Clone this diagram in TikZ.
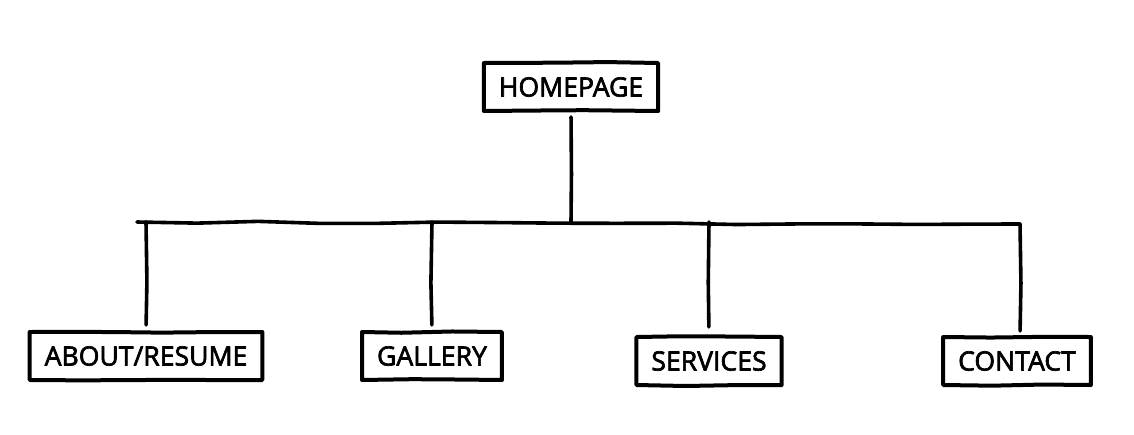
\documentclass[tikz,border=0pt]{standalone}
\usepackage{fontspec}
\newfontfamily\boxfont{Open Sans}[FakeBold=2.5]
\usetikzlibrary{decorations.pathmorphing}

\begin{document}
\begin{tikzpicture}
	[x=0.5pt,y=-0.5pt,line width=2pt,line join=round,line cap=round,
		page node/.style={draw,rectangle,inner xsep=7.5pt,minimum height=24pt,font=\boxfont\fontsize{13.3}{15}\selectfont,
			decorate,decoration={random steps,segment length=25pt,amplitude=0.5pt}},
		wire/.style={line width=1.8pt,decorate,decoration={random steps,segment length=30pt,amplitude=0.6pt}}]

	\useasboundingbox (0,0) rectangle (1134,434);

	\node[page node] (home)     at (571,87)   {HOMEPAGE};
	\node[page node] (about)    at (146,356)  {ABOUT/RESUME};
	\node[page node] (gallery)  at (432,356)  {GALLERY};
	\node[page node] (services) at (709,361)  {SERVICES};
	\node[page node] (contact)  at (1017,361) {CONTACT};

	\coordinate (barL) at (137,222);
	\coordinate (barR) at (1020,224);

	\draw[wire] (barL) -- (barR);
	\draw[wire, shorten <=2pt] (home.south) -- (home.south |- barL);
	\draw[wire, shorten >=2.5pt] (about.north |- barL) -- (about.north);
	\draw[wire, shorten >=2.5pt] (gallery.north |- barL) -- (gallery.north);
	\draw[wire, shorten >=4pt] (services.north |- barL) -- (services.north);
	\draw[wire, shorten >=2pt] (barR) -- (barR |- contact.north);

\end{tikzpicture}
\end{document}
